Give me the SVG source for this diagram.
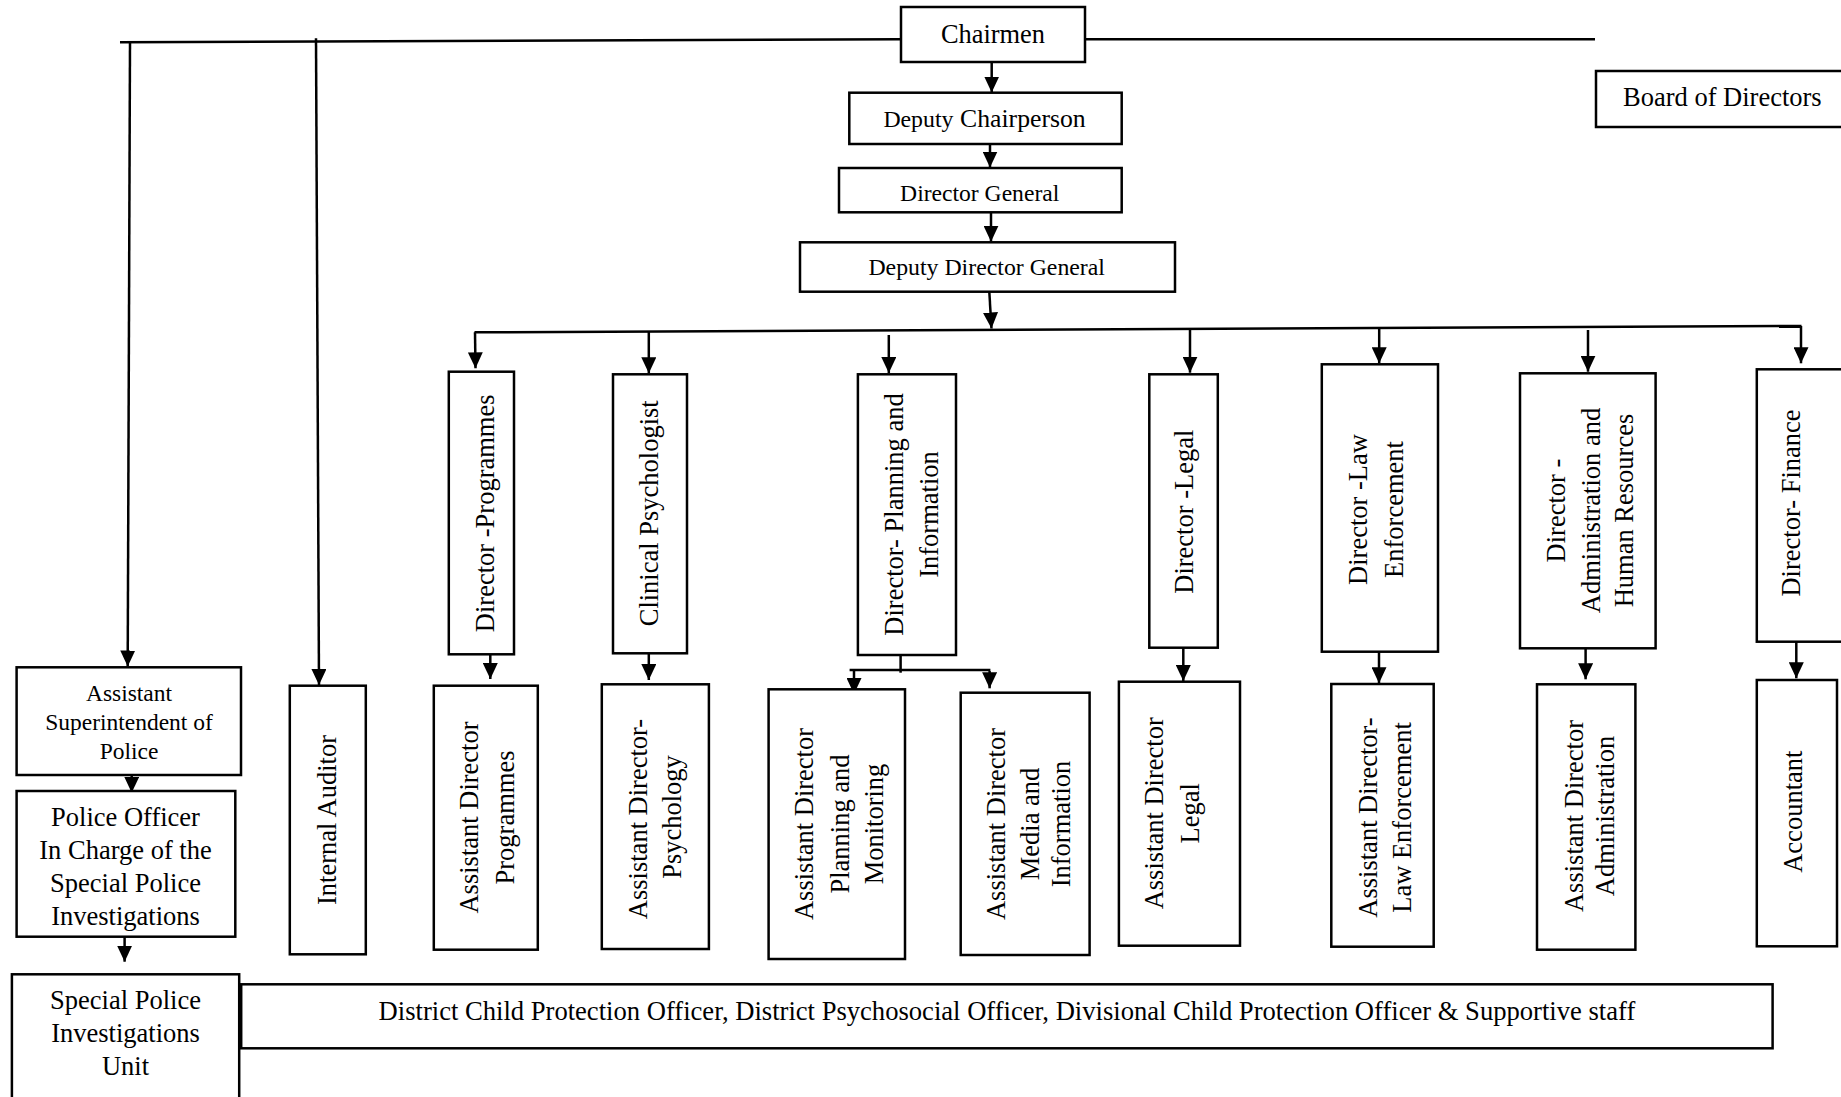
<svg xmlns="http://www.w3.org/2000/svg" width="1841" height="1097" viewBox="0 0 1841 1097">
<style>
.box{fill:#fff;stroke:#000;stroke-width:2.5}
.t{font-family:"Liberation Serif","Times New Roman",serif;fill:#000;font-size:26.5px;text-anchor:middle}
.c{stroke:#000;stroke-width:2.5;fill:none}
.a{marker-end:url(#ah)}
</style>
<defs>
<marker id="ah" viewBox="0 0 16 15" refX="16" refY="7.5" markerWidth="16" markerHeight="15" markerUnits="userSpaceOnUse" orient="auto">
<path d="M0,0 L16,7.5 L0,15 Z" fill="#000"/>
</marker>
</defs>
<rect width="1841" height="1097" fill="#fff"/>
<g id="connectors">
<path class="c" d="M120,42.3 L900,39.3"/>
<path class="c" d="M1085,39.3 L1595,39.3"/>
<path class="c a" d="M130,42 L127.7,666.5"/>
<path class="c a" d="M316,38.3 L319,685"/>
<path class="c a" d="M991.7,62 L991.7,92.5"/>
<path class="c a" d="M990,137.3 L990,167.5"/>
<path class="c a" d="M991,208.3 L991,241.7"/>
<path class="c a" d="M989.3,291.7 L991.5,328.5"/>
<path class="c" d="M474.5,332.3 L1801.5,326"/>
<path class="c a" d="M475,332.3 L475.5,368.3"/>
<path class="c a" d="M648.8,331.5 L648.8,373.3"/>
<path class="c a" d="M888.8,335 L888.8,373"/>
<path class="c a" d="M1190,328.5 L1190,372.7"/>
<path class="c a" d="M1379.2,327.7 L1379.2,363.3"/>
<path class="c a" d="M1588,330 L1588,371.7"/>
<path class="c a" d="M1801,326 L1801,363.3"/>
<path class="c a" d="M490.3,654.3 L490.3,679"/>
<path class="c a" d="M648.8,653.3 L648.8,680"/>
<path class="c" d="M900.6,655 L900.6,672.7"/>
<path class="c" d="M849.6,670 L990.4,670"/>
<path class="c a" d="M854,670 L854,694"/>
<path class="c a" d="M989.6,671 L989.6,688.3"/>
<path class="c a" d="M1183.3,647.7 L1183.3,681"/>
<path class="c a" d="M1379,651.7 L1379,683.3"/>
<path class="c a" d="M1585.6,648.3 L1585.6,679.3"/>
<path class="c a" d="M1796.3,641.7 L1796.3,678.3"/>
<path class="c a" d="M131.7,771 L131.7,792.7"/>
<path class="c a" d="M124.6,933 L124.6,961.7"/>
</g>
<g id="chairmen">
<rect class="box" x="901" y="7" width="184" height="55"/>
<text class="t" x="993" y="43" style="font-size:26.4px">Chairmen</text>
</g>
<g id="board">
<rect class="box" x="1596" y="71" width="260" height="56"/>
<text class="t" x="1623" y="106" style="text-anchor:start">Board of Directors</text>
</g>
<g id="deputy-chairperson">
<rect class="box" x="849.3" y="92.7" width="272.4" height="51.3"/>
<text class="t" x="984.5" y="126.7"><tspan style="font-size:23.8px">Deputy</tspan> <tspan style="font-size:25.7px">Chairperson</tspan></text>
</g>
<g id="director-general">
<rect class="box" x="839" y="168" width="282.7" height="44.3"/>
<text class="t" x="979.7" y="200.7" style="font-size:23.6px">Director General</text>
</g>
<g id="deputy-director-general">
<rect class="box" x="800" y="242.3" width="375" height="49.4"/>
<text class="t" x="986.7" y="275" style="font-size:23.8px">Deputy Director General</text>
</g>
<g id="director-programmes">
<rect class="box" x="448.8" y="371.7" width="65.2" height="282.6"/>
<text class="t" transform="translate(494,513.3) rotate(-90)">Director -Programmes</text>
</g>
<g id="clinical-psychologist">
<rect class="box" x="613" y="374.3" width="74" height="279"/>
<text class="t" transform="translate(657.5,513.3) rotate(-90)">Clinical Psychologist</text>
</g>
<g id="director-planning">
<rect class="box" x="857.9" y="374.3" width="98.1" height="280.7"/>
<text class="t" transform="translate(902.5,514.5) rotate(-90)">Director-  Planning and</text>
<text class="t" transform="translate(938,514.5) rotate(-90)">Information</text>
</g>
<g id="director-legal">
<rect class="box" x="1149.3" y="374.3" width="68.5" height="273.4"/>
<text class="t" transform="translate(1193,511.7) rotate(-90)">Director -Legal</text>
</g>
<g id="director-law">
<rect class="box" x="1321.8" y="364.3" width="116.2" height="287.4"/>
<text class="t" transform="translate(1367,509.5) rotate(-90)">Director -Law</text>
<text class="t" transform="translate(1402.5,509.5) rotate(-90)">Enforcement</text>
</g>
<g id="director-admin">
<rect class="box" x="1520" y="373.3" width="135.6" height="275"/>
<text class="t" transform="translate(1564.7,510.5) rotate(-90)">Director -</text>
<text class="t" transform="translate(1600,510.5) rotate(-90)">Administration and</text>
<text class="t" transform="translate(1632.7,510.5) rotate(-90)">Human Resources</text>
</g>
<g id="director-finance">
<rect class="box" x="1756.8" y="369.3" width="100" height="272.4"/>
<text class="t" transform="translate(1800,503) rotate(-90)">Director- Finance</text>
</g>
<g id="asp">
<rect class="box" x="16.6" y="667.3" width="224.4" height="107.7"/>
<text class="t" x="129" y="700.7" style="font-size:23.5px">Assistant</text>
<text class="t" x="129" y="730" style="font-size:23.5px">Superintendent of</text>
<text class="t" x="129" y="759" style="font-size:23.5px">Police</text>
</g>
<g id="police-officer">
<rect class="box" x="16.6" y="791" width="218.7" height="145.7"/>
<text class="t" x="125.5" y="825.7">Police Officer</text>
<text class="t" x="125.5" y="859">In Charge of the</text>
<text class="t" x="125.5" y="892.3">Special Police</text>
<text class="t" x="125.5" y="925">Investigations</text>
</g>
<g id="spiu">
<rect class="box" x="11.9" y="974.3" width="227.3" height="140"/>
<text class="t" x="125.5" y="1009.3">Special Police</text>
<text class="t" x="125.5" y="1041.7">Investigations</text>
<text class="t" x="125.5" y="1075">Unit</text>
</g>
<g id="internal-auditor">
<rect class="box" x="289.8" y="685.7" width="76" height="268.6"/>
<text class="t" transform="translate(336,820) rotate(-90)">Internal Auditor</text>
</g>
<g id="ad-programmes">
<rect class="box" x="433.8" y="685.7" width="104" height="264"/>
<text class="t" transform="translate(478,817.5) rotate(-90)">Assistant Director</text>
<text class="t" transform="translate(513.7,817.5) rotate(-90)">Programmes</text>
</g>
<g id="ad-psychology">
<rect class="box" x="601.8" y="684.3" width="107.1" height="264.7"/>
<text class="t" transform="translate(647.3,819) rotate(-90)">Assistant Director-</text>
<text class="t" transform="translate(681,817) rotate(-90)">Psychology</text>
</g>
<g id="ad-planning">
<rect class="box" x="768.6" y="689.3" width="136.4" height="269.7"/>
<text class="t" transform="translate(813.3,824) rotate(-90)">Assistant Director</text>
<text class="t" transform="translate(849,824) rotate(-90)">Planning and</text>
<text class="t" transform="translate(882.5,824) rotate(-90)">Monitoring</text>
</g>
<g id="ad-media">
<rect class="box" x="960.7" y="692.7" width="128.9" height="262.3"/>
<text class="t" transform="translate(1005,824) rotate(-90)">Assistant Director</text>
<text class="t" transform="translate(1038.7,824) rotate(-90)">Media and</text>
<text class="t" transform="translate(1070.4,824) rotate(-90)">Information</text>
</g>
<g id="ad-legal">
<rect class="box" x="1118.9" y="681.7" width="121.1" height="264"/>
<text class="t" transform="translate(1163.3,813.3) rotate(-90)">Assistant Director</text>
<text class="t" transform="translate(1199,813.3) rotate(-90)">Legal</text>
</g>
<g id="ad-law">
<rect class="box" x="1331.3" y="684" width="102.4" height="262.7"/>
<text class="t" transform="translate(1377,817.5) rotate(-90)">Assistant Director-</text>
<text class="t" transform="translate(1410.5,817.5) rotate(-90)">Law Enforcement</text>
</g>
<g id="ad-admin">
<rect class="box" x="1537" y="684.3" width="98.4" height="265.4"/>
<text class="t" transform="translate(1582.5,816) rotate(-90)">Assistant Director</text>
<text class="t" transform="translate(1614,816) rotate(-90)">Administration</text>
</g>
<g id="accountant">
<rect class="box" x="1756.8" y="680" width="80.2" height="266.3"/>
<text class="t" transform="translate(1802,811.7) rotate(-90)">Accountant</text>
</g>
<g id="district-staff">
<rect class="box" x="241.2" y="984.3" width="1531.4" height="64"/>
<text class="t" x="1006.9" y="1020" style="font-size:26.6px">District Child Protection Officer, District Psychosocial Officer, Divisional Child Protection Officer &amp; Supportive staff</text>
</g>
</svg>
